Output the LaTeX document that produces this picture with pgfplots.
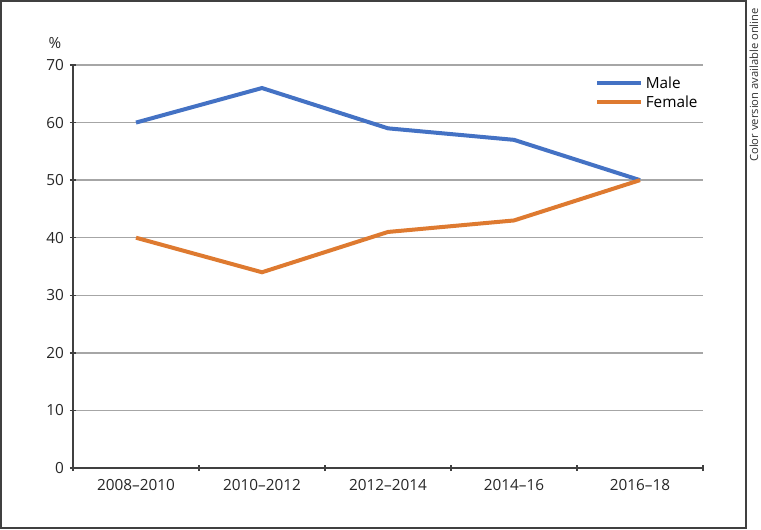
\documentclass[border=0pt]{standalone}
\usepackage{fontspec}
\setmainfont{Open Sans}
\usepackage{pgfplots}
\pgfplotsset{compat=1.18}
\definecolor{maleblue}{HTML}{4472C4}
\definecolor{femaleorange}{HTML}{DE7A30}
\definecolor{gridgray}{HTML}{A6A6A6}
\definecolor{axisdark}{HTML}{404040}
\begin{document}
\begin{tikzpicture}
\useasboundingbox (-54.75pt,-45.75pt) rectangle (516pt,351pt);
\draw[line width=1.5pt, axisdark] (-54pt,-45pt) rectangle (504.75pt,350.25pt);
\begin{axis}[
  at={(0,0)}, anchor=south west,
  scale only axis,
  width=472.5pt, height=302.25pt,
  xmin=-0.5, xmax=4.5,
  ymin=0, ymax=70,
  ytick={0,10,...,70},
  xtick={0,1,2,3,4},
  xticklabels={2008–2010,2010–2012,2012–2014,2014–16,2016–18},
  minor xtick={-0.5,0.5,1.5,2.5,3.5,4.5},
  major x tick style={draw=none},
  minor tick length=4.5pt,
  major tick length=4.5pt,
  tick align=outside,
  tick style={axisdark, line width=1pt},
  axis lines=left,
  axis line style={-, axisdark, line width=1.1pt},
  ymajorgrids,
  grid style={gridgray, line width=1pt},
  /pgf/number format/assume math mode=true,
  ticklabel style={font=\fontsize{11.5}{13}\selectfont, text=black!85},
  xticklabel style={yshift=-3pt},
  yticklabel style={xshift=-1pt},
  legend style={at={(0.822,0.985)}, anchor=north west, draw=none, fill=none,
    font=\fontsize{11.5}{13}\selectfont, row sep=0pt,
    /tikz/every even column/.append style={column sep=4pt}},
  legend cell align=left,
  legend image code/.code={\draw[#1, line width=3pt] (0pt,0pt) -- (33pt,0pt);},
  clip=false,
]
\addplot[maleblue, line width=3pt] coordinates {(0,60) (1,66) (2,59) (3,57) (4,50)};
\addlegendentry{Male}
\addplot[femaleorange, line width=3pt] coordinates {(0,40) (1,34) (2,41) (3,43) (4,50)};
\addlegendentry{Female}
\end{axis}
\node[font=\fontsize{11.5}{13}\selectfont, text=black!85] at (-13.5pt,318.75pt) {\%};
\node[rotate=90, font=\fontsize{8.4}{10}\selectfont, text=black!80] at (510.75pt,287.25pt) {Color version available online};
\end{tikzpicture}
\end{document}
